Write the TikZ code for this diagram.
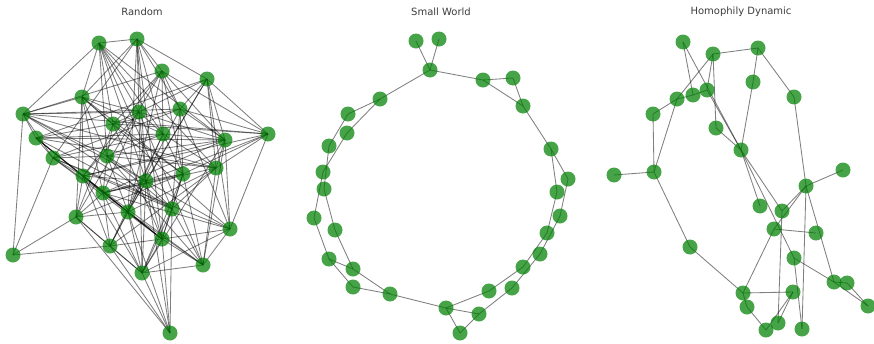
\documentclass[tikz,border=0pt]{standalone}
\usepackage{fontspec}
\setmainfont{DejaVu Sans}
\usetikzlibrary{backgrounds}
\definecolor{dotgreen}{RGB}{0,128,0}
\definecolor{titlegray}{RGB}{60,60,60}

\begin{document}
\begin{tikzpicture}[
    x=1pt, y=-1pt,
    dot/.style={circle, fill=dotgreen, fill opacity=0.72, draw=none, inner sep=0pt, minimum size=15pt},
    edge/.style={black, opacity=0.5, line width=0.85pt},
    title/.style={font=\fontsize{10}{12}\selectfont, text=titlegray}
]
\useasboundingbox (0,0) rectangle (874,343);

% panel titles
\node[title] (trandom) at (142,12) {Random};
\node[title] (tsmall) at (441,12) {Small World};
\node[title] (thomo) at (741,12) {Homophily Dynamic};

% Random
\foreach \n/\px/\py in {1/99/43, 2/137/39, 3/162/71, 4/207/79, 5/82/97, 6/23/114,
    7/139/112, 8/180/109, 9/113/124, 10/36/138, 11/163/134, 12/225/140, 13/268/134,
    14/53/158, 15/107/156, 16/83/176, 17/146/181, 18/183/174, 19/216/168, 20/103/193,
    21/76/217, 22/128/212, 23/172/209, 24/230/229, 25/110/246, 26/162/239, 27/13/255,
    28/142/273, 29/203/265, 30/170/333}
  \node[dot] (r\n) at (\px,\py) {};

% Small World
\foreach \n/\px/\py in {1/416/41, 2/439/39, 3/430/70, 4/483/80, 5/513/78, 6/523/106,
    7/380/99, 8/348/114, 9/347/133, 10/329/146, 11/551/149, 12/323/172, 13/568/179,
    14/324/189, 15/557/192, 16/314/218, 17/560/216, 18/335/230, 19/547/233, 20/540/254,
    21/329/259, 22/353/269, 23/523/267, 24/353/287, 25/512/288, 26/489/291, 27/390/294,
    28/446/308, 29/479/314, 30/460/333}
  \node[dot] (s\n) at (\px,\py) {};

% Homophily Dynamic
\foreach \n/\px/\py in {1/683/42, 2/713/54, 3/758/48, 4/753/82, 5/794/97, 6/677/99,
    7/693/95, 8/707/90, 9/653/114, 10/716/128, 11/741/150, 12/614/175, 13/654/172,
    14/843/170, 15/806/186, 16/760/206, 17/782/211, 18/774/229, 19/816/233, 20/690/247,
    21/794/258, 22/743/293, 23/793/292, 24/834/282, 25/847/283, 26/868/306, 27/747/307,
    28/778/323, 29/766/330, 30/802/329}
  \node[dot] (h\n) at (\px,\py) {};

\begin{scope}[on background layer]
\foreach \a/\b in {1/2,1/6,1/5,1/7,1/11,1/9,1/15,1/17,1/23,1/19,1/12,
    2/4,2/3,2/7,2/11,2/17,2/26,2/5,2/8,2/14,2/22,
    3/8,3/9,3/11,3/16,3/22,3/18,3/12,3/13,3/21,3/6,
    4/12,4/13,4/19,4/22,4/17,4/7,4/8,4/10,4/24,
    5/6,5/9,5/7,5/15,5/16,5/20,5/24,5/18,5/11,5/21,
    6/10,6/27,6/7,6/8,6/13,6/14,6/15,6/17,6/19,6/23,
    7/9,7/11,7/12,7/17,7/20,7/29,7/28,7/16,
    8/9,8/12,8/13,8/18,8/14,8/23,8/25,8/24,
    9/10,9/13,9/15,9/18,9/21,9/26,
    10/11,10/12,10/14,10/16,10/19,10/20,10/22,10/26,10/23,
    11/12,11/14,11/15,11/18,11/19,11/22,11/25,11/26,
    12/15,12/19,12/24,12/16,12/20,12/28,12/29,
    13/19,13/24,13/18,13/17,13/16,
    14/15,14/16,14/20,14/23,14/24,14/27,14/26,
    15/17,15/19,15/20,15/22,15/29,15/23,
    16/17,16/21,16/22,16/25,16/26,16/29,16/28,
    17/18,17/20,17/22,17/23,17/24,17/26,17/30,17/28,
    18/20,18/21,18/23,18/26,18/29,18/28,
    19/20,19/22,19/23,19/25,19/29,
    20/21,20/25,20/26,20/28,20/24,
    21/25,21/27,21/28,21/30,21/22,
    22/25,22/26,22/28,22/29,22/30,
    23/26,23/29,23/30,23/28,
    24/26,24/29,24/28,
    25/27,25/28,25/30,25/26,
    26/28,26/29,26/30,
    28/29,28/30}
  \draw[edge] (r\a.center) -- (r\b.center);

\foreach \a/\b in {1/3,2/3,3/4,3/7,4/5,4/6,5/6,6/11,7/8,7/9,8/10,9/12,10/14,
    12/16,14/18,16/21,18/22,21/22,21/24,22/27,24/27,27/28,28/30,28/29,29/30,
    11/13,11/15,13/17,17/20,20/25,25/29,15/19,19/23,23/26,26/28}
  \draw[edge] (s\a.center) -- (s\b.center);

\foreach \a/\b in {2/3,3/4,4/11,3/5,5/15,1/7,1/11,2/6,2/8,2/10,6/7,7/8,6/9,6/13,
    9/13,12/13,8/11,10/11,13/20,20/22,11/16,11/17,11/21,15/14,15/17,15/18,15/24,
    18/19,22/18,22/23,22/27,27/29,29/23,28/23,28/17,30/21,30/15,21/24,24/25,
    24/26,25/26}
  \draw[edge] (h\a.center) -- (h\b.center);
\end{scope}
\end{tikzpicture}
\end{document}
